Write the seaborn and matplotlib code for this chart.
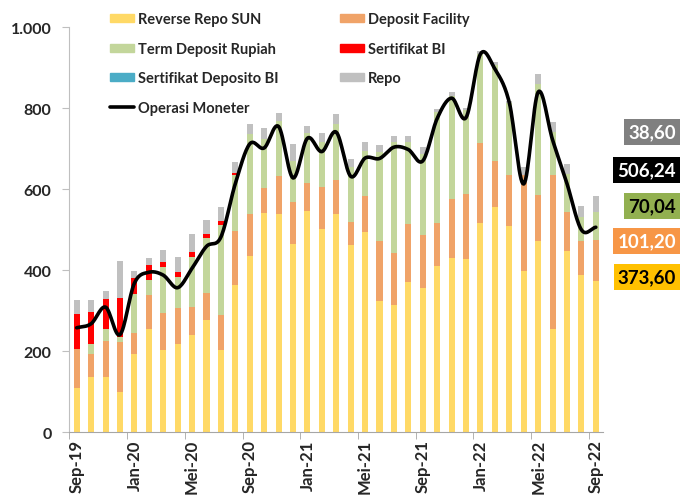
import numpy as np
import pandas as pd
import matplotlib
matplotlib.use('Agg')
import matplotlib.pyplot as plt
import seaborn as sns
from matplotlib.patches import Patch
from matplotlib.lines import Line2D

sns.set_style('white')
plt.rcParams['font.family'] = ['Lato', 'DejaVu Sans']

# data (Rp triliun), Sep-19 .. Sep-22
bulan = ['Sep-19', 'Okt-19', 'Nov-19', 'Des-19', 'Jan-20', 'Feb-20', 'Mar-20', 'Apr-20', 'Mei-20',
         'Jun-20', 'Jul-20', 'Agu-20', 'Sep-20', 'Okt-20', 'Nov-20', 'Des-20', 'Jan-21', 'Feb-21',
         'Mar-21', 'Apr-21', 'Mei-21', 'Jun-21', 'Jul-21', 'Agu-21', 'Sep-21', 'Okt-21', 'Nov-21',
         'Des-21', 'Jan-22', 'Feb-22', 'Mar-22', 'Apr-22', 'Mei-22', 'Jun-22', 'Jul-22', 'Agu-22', 'Sep-22']
rr_sun = [110, 137, 136, 100, 193, 255, 204, 218, 241, 277, 202, 364, 436, 541, 539, 464, 546, 502, 540,
          463, 495, 325, 314, 372, 356, 411, 430, 428, 516, 557, 509, 397, 473, 255, 447, 388, 373.6]
dep_fac = [95, 57, 90, 123, 52, 85, 91, 88, 68, 68, 88, 132, 104, 62, 93, 105, 69, 103, 84,
           55, 88, 148, 128, 142, 130, 105, 146, 160, 199, 112, 126, 238, 113, 380, 96, 84, 101.2]
term_dep = [0, 24, 30, 12, 96, 37, 112, 77, 125, 134, 223, 139, 196, 121, 137, 102, 125, 111, 137,
            136, 112, 220, 274, 203, 201, 276, 254, 207, 219, 238, 179, 0, 274, 107, 95, 59, 70.04]
sbi = [88, 80, 72, 97, 40, 36, 13, 12, 12, 11, 9, 4, 0, 0, 0, 0, 0, 0, 0,
       0, 0, 0, 0, 0, 0, 0, 0, 0, 0, 0, 0, 0, 0, 0, 0, 0, 0]
sdbi = [0] * 37
repo = [33, 29, 21, 90, 17, 18, 31, 37, 44, 34, 35, 28, 24, 27, 19, 41, 17, 24, 24,
        21, 21, 16, 15, 14, 18, 5, 11, 5, 8, 8, 4, 21, 25, 25, 24, 27, 38.6]
operasi = [258, 268, 309, 241, 368, 395, 388, 357, 405, 459, 482, 614, 712, 702, 755, 628, 726, 693, 741,
           632, 677, 676, 704, 698, 670, 775, 825, 777, 934, 897, 814, 613, 840, 722, 614, 500, 506.24]

label_akhir = ['38,60', '506,24', '70,04', '101,20', '373,60']

df = pd.DataFrame({'bulan': bulan, 'Reverse Repo SUN': rr_sun, 'Deposit Facility': dep_fac,
                   'Term Deposit Rupiah': term_dep, 'Sertifikat BI': sbi,
                   'Sertifikat Deposito BI': sdbi, 'Repo': repo})

warna = {'Reverse Repo SUN': '#FFD966', 'Deposit Facility': '#F0A368', 'Term Deposit Rupiah': '#C3D69B',
         'Sertifikat BI': '#FF0000', 'Sertifikat Deposito BI': '#4BACC6', 'Repo': '#C0C0C0'}
urutan = ['Reverse Repo SUN', 'Deposit Facility', 'Term Deposit Rupiah', 'Sertifikat BI',
          'Sertifikat Deposito BI', 'Repo']

fig = plt.figure(figsize=(6.8, 5.02), dpi=100)
ax = fig.add_axes([0.1022, 0.1369, 0.7846, 0.8068])

# stacked bars: draw cumulative totals from the top layer down
kum = df[urutan].cumsum(axis=1)
for kol in reversed(urutan):
    sns.barplot(x=df['bulan'], y=kum[kol], color=warna[kol], saturation=1, width=0.42,
                ax=ax, order=bulan, linewidth=0)

# smooth line (catmull-rom between the monthly points)
def halus(ys, n=16):
    p = np.array(ys, dtype=float)
    p = np.concatenate([[2 * p[0] - p[1]], p, [2 * p[-1] - p[-2]]])
    xs_out, ys_out = [], []
    for i in range(1, len(p) - 2):
        t = np.linspace(0, 1, n, endpoint=False)
        p0, p1, p2, p3 = p[i - 1], p[i], p[i + 1], p[i + 2]
        y = 0.5 * ((2 * p1) + (-p0 + p2) * t + (2 * p0 - 5 * p1 + 4 * p2 - p3) * t ** 2
                   + (-p0 + 3 * p1 - 3 * p2 + p3) * t ** 3)
        xs_out.extend(i - 1 + t)
        ys_out.extend(y)
    xs_out.append(len(ys) - 1)
    ys_out.append(ys[-1])
    return np.array(xs_out), np.array(ys_out)

lx, ly = halus(operasi)
ax.plot(lx, ly, color='black', lw=2.6, solid_capstyle='round', zorder=5)

ax.set_xlim(-0.5, 36.5)
ax.set_ylim(0, 1000)
ax.set_xlabel('')
ax.set_ylabel('')

ax.set_yticks(range(0, 1001, 200))
ax.set_yticklabels(['0', '200', '400', '600', '800', '1.000'], fontsize=11.5, fontweight='bold')
ax.set_xticks(range(0, 37, 4))
ax.set_xticklabels([bulan[i] for i in range(0, 37, 4)], rotation=90, fontsize=12, fontweight='bold')
ax.set_xticks(np.arange(-0.5, 36, 4), minor=True)
ax.tick_params(axis='x', which='major', length=0, pad=5)
ax.tick_params(axis='x', which='minor', length=5, color='#A6A6A6', direction='out', bottom=True)
ax.tick_params(axis='y', length=5, color='#BFBFBF', direction='out', left=True, pad=8)

for s in ['top', 'right']:
    ax.spines[s].set_visible(False)
ax.spines['left'].set_color('#BFBFBF')
ax.spines['bottom'].set_color('#A6A6A6')

handles = [Patch(color=warna['Reverse Repo SUN']), Patch(color=warna['Term Deposit Rupiah']),
           Patch(color=warna['Sertifikat Deposito BI']), Line2D([], [], color='black', lw=2.6),
           Patch(color=warna['Deposit Facility']), Patch(color=warna['Sertifikat BI']),
           Patch(color=warna['Repo'])]
labels = ['Reverse Repo SUN', 'Term Deposit Rupiah', 'Sertifikat Deposito BI', 'Operasi Moneter',
          'Deposit Facility', 'Sertifikat BI', 'Repo']
ax.legend(handles, labels, ncol=2, loc='upper left', bbox_to_anchor=(0.076, 1.037), frameon=False,
          prop={'weight': 'bold', 'size': 10.5}, handlelength=1.65, handleheight=0.5,
          handletextpad=0.25, labelspacing=1.07, columnspacing=4.25, borderpad=0, borderaxespad=0)

# value boxes for the latest month
kotak = [(133, '#808080', 'white'), (171, '#000000', 'white'), (207, '#92B050', 'black'),
         (242, '#F79646', 'white'), (278, '#FFC000', 'black')]
for teks, (ypx, fc, tc) in zip(label_akhir, kotak):
    fig.text(676 / 680, 1 - ypx / 502, teks, ha='right', va='center', fontsize=13.5,
             fontweight='bold', color=tc,
             bbox=dict(boxstyle='square,pad=0.22', fc=fc, ec='none'))

fig.savefig('out.png', dpi=100)
